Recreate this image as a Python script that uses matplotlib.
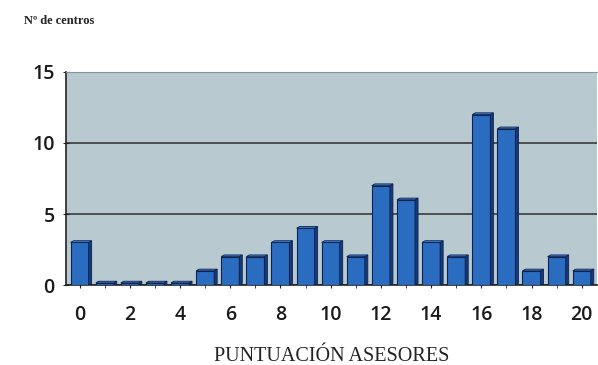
import numpy as np
import matplotlib
matplotlib.use("Agg")
import matplotlib.pyplot as plt
from matplotlib.patches import Polygon

# puntuacion asesores vs numero de centros
scores = list(range(21))
centros = [3, 0.15, 0.15, 0.15, 0.15, 1, 2, 2, 3, 4, 3, 2, 7, 6, 3, 2, 12, 11, 1, 2, 1]
yticks = [0, 5, 10, 15]
xticks = list(range(0, 21, 2))

fig = plt.figure(figsize=(5.98, 3.65), dpi=100)
ax = fig.add_axes([0.110, 0.219, 0.888, 0.584])
ax.set_facecolor("#b9c9d0")

w = 0.72
depth = 0.12
ax.bar(scores, centros, width=w, color="#2a6cc0", edgecolor="#0c2250", linewidth=0.8, zorder=3)
# fake 3d side + cap
for x, v in zip(scores, centros):
    side = Polygon([(x + w/2, 0), (x + w/2 + depth, 0.12), (x + w/2 + depth, v + 0.12), (x + w/2, v)],
                   closed=True, facecolor="#143a7a", edgecolor="#0c2250", linewidth=0.6, zorder=3)
    cap = Polygon([(x - w/2, v), (x + w/2, v), (x + w/2 + depth, v + 0.12), (x - w/2 + depth, v + 0.12)],
                  closed=True, facecolor="#3f7fcf", edgecolor="#0c2250", linewidth=0.6, zorder=3)
    ax.add_patch(side)
    ax.add_patch(cap)

ax.set_xlim(-0.55, 20.6)
ax.set_ylim(0, 15)
ax.set_yticks(yticks)
ax.set_xticks(scores, minor=True)
ax.set_xticks(xticks)
ax.tick_params(axis="x", which="both", length=4, direction="inout", color="#222222")
ax.tick_params(axis="y", length=4, direction="inout", color="#222222")
ax.tick_params(labelsize=14, labelcolor="#1a1a1a")
ax.tick_params(axis="x", pad=12)
ax.tick_params(axis="y", pad=6)
for lab in ax.get_xticklabels() + ax.get_yticklabels():
    lab.set_family("Open Sans")
    lab.set_fontweight("semibold")

ax.yaxis.grid(True, color="#3a3a3a", linewidth=1.2, zorder=1)
ax.set_axisbelow(True)
for s in ["left", "bottom"]:
    ax.spines[s].set_color("#222222")
    ax.spines[s].set_linewidth(1.2)
ax.spines["top"].set_color("#8a9599")
ax.spines["right"].set_visible(False)

ax.set_xlabel("PUNTUACIÓN ASESORES", family="Liberation Serif", fontsize=14.5,
              color="#222222", labelpad=16)
fig.text(0.040, 0.935, "Nº de centros", family="Liberation Serif", fontsize=9,
         fontweight="bold", color="#222222")

fig.savefig("out.png", dpi=100)
